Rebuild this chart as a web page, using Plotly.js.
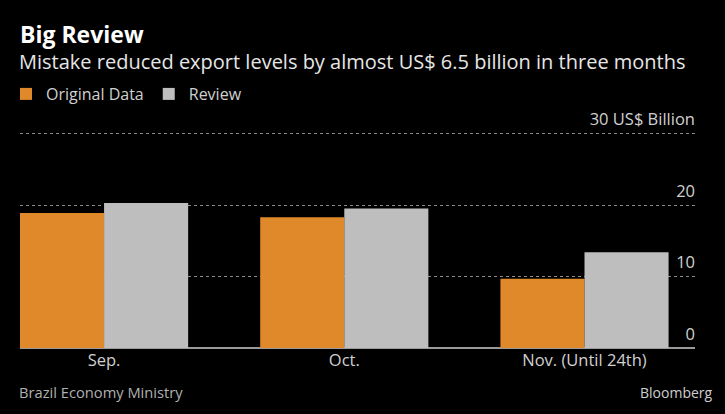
<!DOCTYPE html>
<html><head><meta charset="utf-8">
<script src="https://cdn.plot.ly/plotly-3.0.1.min.js"></script>
<style>html,body{margin:0;padding:0;background:#000;}#chart{width:725px;height:414px;}</style>
</head><body><div id="chart"></div>
<script>
const categories = ["Sep.", "Oct.", "Nov. (Until 24th)"];
const originalData = [18.9, 18.3, 9.7];
const reviewData = [20.3, 19.5, 13.4];
const yTickVals = [0, 10, 20, 30];
const yTickText = ["0", "10", "20", "30 US$ Billion"];

const FONT = "Open Sans, sans-serif";
const data = [
  {type: "bar", name: "Original Data", x: categories, y: originalData,
   marker: {color: "#E0892A"}, hoverinfo: "y"},
  {type: "bar", name: "Review", x: categories, y: reviewData,
   marker: {color: "#BEBEBE"}, hoverinfo: "y"}
];
const layout = {
  width: 725, height: 414,
  paper_bgcolor: "#000", plot_bgcolor: "#000",
  font: {family: FONT, color: "#d0d0d0", size: 16},
  margin: {l: 20, r: 30, t: 130, b: 66, autoexpand: false},
  barmode: "group", bargap: 0.3, bargroupgap: 0,
  showlegend: true,
  legend: {orientation: "h", x: 0.0, xref: "paper", y: 1.245, yanchor: "middle",
           xanchor: "left", font: {size: 16, color: "#d0d0d0"}, bgcolor: "rgba(0,0,0,0)",
           itemwidth: 30, traceorder: "normal"},
  xaxis: {type: "category", range: [-0.35, 2.46], showgrid: false, zeroline: false,
          showline: false, ticks: "", tickfont: {size: 16.5, color: "#d0d0d0"}, fixedrange: true},
  yaxis: {range: [0, 30.5], side: "right", tickvals: yTickVals, ticktext: yTickText,
          ticklabelposition: "inside", ticklabeloverflow: "allow", ticklabelshift: -14, ticklabelstandoff: -3, ticks: "",
          showgrid: true, gridcolor: "#8a8a8a", griddash: "dot", gridwidth: 1,
          zeroline: true, zerolinecolor: "#9a9a9a", zerolinewidth: 2,
          tickfont: {size: 16.5, color: "#d0d0d0"}, fixedrange: true},
  annotations: [
    {text: "<b>Big Review</b>", xref: "paper", yref: "paper", x: -0.0, y: 0, xanchor: "left", yanchor: "middle",
     showarrow: false, font: {size: 23, color: "#ffffff", family: FONT}, yshift: 0},
    {text: "Mistake reduced export levels by almost US$ 6.5 billion in three months", xref: "paper", yref: "paper",
     x: 0, y: 0, xanchor: "left", yanchor: "middle", showarrow: false, font: {size: 20, color: "#e6e6e6", family: FONT}},
    {text: "Brazil Economy Ministry", xref: "paper", yref: "paper", x: 0, y: 0, xanchor: "left", yanchor: "middle",
     showarrow: false, font: {size: 14.7, color: "#b0b0b0", family: FONT}},
    {text: "Bloomberg", xref: "paper", yref: "paper", x: 1, y: 0, xanchor: "right", yanchor: "middle",
     showarrow: false, font: {size: 14, color: "#cfcfcf", family: FONT}}
  ]
};
const plotH = layout.height - layout.margin.t - layout.margin.b;
const plotW = layout.width - layout.margin.l - layout.margin.r;
function py(pix) { return (layout.height - layout.margin.b - pix) / plotH; }
function px(pix) { return (pix - layout.margin.l) / plotW; }
layout.annotations[0].y = py(34); layout.annotations[0].x = px(18);
layout.annotations[1].y = py(61); layout.annotations[1].x = px(17);
layout.annotations[2].y = py(392); layout.annotations[2].x = px(17);
layout.annotations[3].y = py(392); layout.annotations[3].x = px(715);
layout.legend.y = py(94); layout.legend.x = px(6);

Plotly.newPlot("chart", data, layout, {displayModeBar: false, staticPlot: true});
</script></body></html>
